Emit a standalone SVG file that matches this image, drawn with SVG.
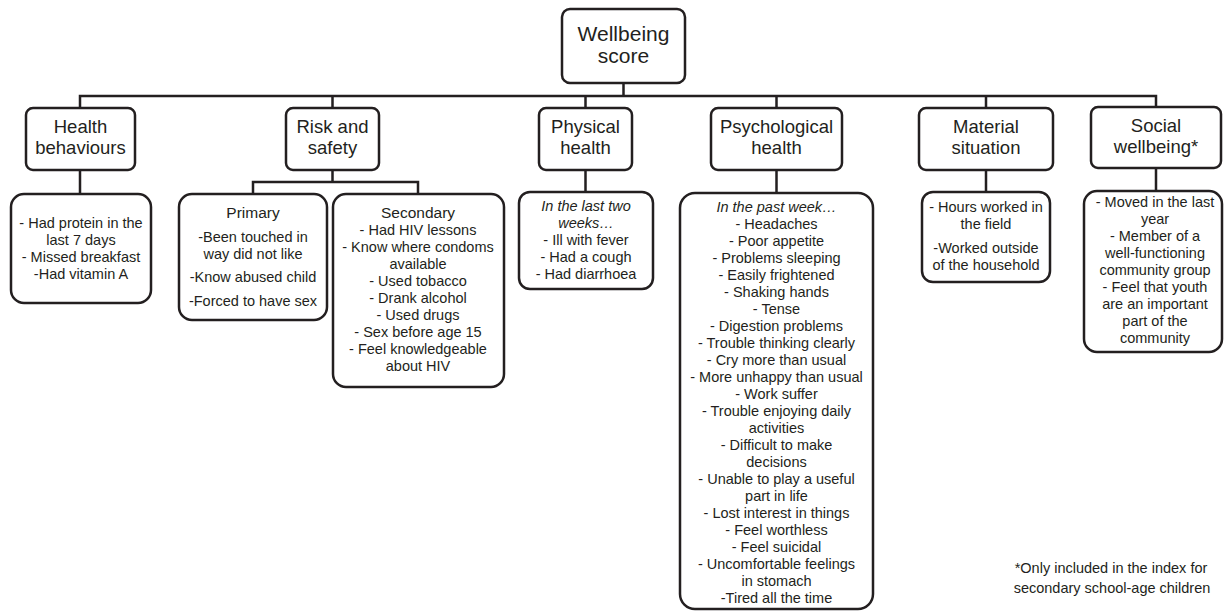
<svg xmlns="http://www.w3.org/2000/svg" width="1225" height="611" viewBox="0 0 1225 611">
<style>
  .box { fill: #fff; stroke: #231f20; stroke-width: 2.5; }
  .conn { fill: none; stroke: #231f20; stroke-width: 2.5; }
  text { font-family: "Liberation Sans", Arial, sans-serif; fill: #231f20; text-anchor: middle; }
  .root { font-size: 21px; }
  .l1 { font-size: 18.5px; }
  .d { font-size: 14.5px; }
  .t { font-size: 15.5px; }
  .i { font-style: italic; }
</style>
<rect width="1225" height="611" fill="#fff"/>
<g id="connectors">
  <path class="conn" d="M623.5 83 V96 M80 108 V96 H1156 V107 M332.5 96 V108 M585.5 96 V108 M776.5 96 V108 M986 96 V108"/>
  <path class="conn" d="M80 170 V194 M332.5 170 V182 M253 194 V182 H418 V194 M585.5 170 V192 M776.5 170 V193 M986 170 V192 M1156 168 V191"/>
</g>
<g id="root">
  <rect class="box" x="562" y="9" width="123" height="74" rx="8"/>
  <text class="root" x="623.5" y="41">Wellbeing</text>
  <text class="root" x="623.5" y="63">score</text>
</g>
<g id="health-behaviours">
  <rect class="box" x="26" y="108" width="109" height="62" rx="7"/>
  <text class="l1" x="80.5" y="133">Health</text>
  <text class="l1" x="80.5" y="154">behaviours</text>
</g>
<g id="risk-safety">
  <rect class="box" x="286" y="108" width="93" height="62" rx="7"/>
  <text class="l1" x="332.5" y="133">Risk and</text>
  <text class="l1" x="332.5" y="154">safety</text>
</g>
<g id="physical-health">
  <rect class="box" x="539" y="108" width="93" height="62" rx="7"/>
  <text class="l1" x="585.5" y="133">Physical</text>
  <text class="l1" x="585.5" y="154">health</text>
</g>
<g id="psychological-health">
  <rect class="box" x="711" y="108" width="131" height="62" rx="7"/>
  <text class="l1" x="776.5" y="133">Psychological</text>
  <text class="l1" x="776.5" y="154">health</text>
</g>
<g id="material-situation">
  <rect class="box" x="919" y="108" width="134" height="62" rx="7"/>
  <text class="l1" x="986" y="133">Material</text>
  <text class="l1" x="986" y="154">situation</text>
</g>
<g id="social-wellbeing">
  <rect class="box" x="1091" y="107" width="130" height="61" rx="7"/>
  <text class="l1" x="1156" y="132">Social</text>
  <text class="l1" x="1156" y="153">wellbeing*</text>
</g>
<g id="health-details">
  <rect class="box" x="11" y="194" width="140" height="109" rx="13"/>
  <text class="d" x="81" y="228">- Had protein in the</text>
  <text class="d" x="81" y="245">last 7 days</text>
  <text class="d" x="81" y="262">- Missed breakfast</text>
  <text class="d" x="81" y="279">-Had vitamin A</text>
</g>
<g id="primary">
  <rect class="box" x="179" y="194" width="148" height="126" rx="13"/>
  <text class="t" x="253" y="218">Primary</text>
  <text class="d" x="253" y="242">-Been touched in</text>
  <text class="d" x="253" y="259">way did not like</text>
  <text class="d" x="253" y="282">-Know abused child</text>
  <text class="d" x="253" y="306">-Forced to have sex</text>
</g>
<g id="secondary">
  <rect class="box" x="333" y="194" width="171" height="193" rx="13"/>
  <text class="t" x="418" y="218">Secondary</text>
  <text class="d" x="418" y="235">- Had HIV lessons</text>
  <text class="d" x="418" y="252">- Know where condoms</text>
  <text class="d" x="418" y="269">available</text>
  <text class="d" x="418" y="286">- Used tobacco</text>
  <text class="d" x="418" y="303">- Drank alcohol</text>
  <text class="d" x="418" y="320">- Used drugs</text>
  <text class="d" x="418" y="337">- Sex before age 15</text>
  <text class="d" x="418" y="354">- Feel knowledgeable</text>
  <text class="d" x="418" y="371">about HIV</text>
</g>
<g id="physical-details">
  <rect class="box" x="519" y="192" width="134" height="97" rx="11"/>
  <text class="d i" x="586" y="211">In the last two</text>
  <text class="d i" x="586" y="228">weeks…</text>
  <text class="d" x="586" y="245">- Ill with fever</text>
  <text class="d" x="586" y="262">- Had a cough</text>
  <text class="d" x="586" y="279">- Had diarrhoea</text>
</g>
<g id="psychological-details">
  <rect class="box" x="680" y="193" width="193" height="416" rx="15"/>
  <text class="d i" x="776.5" y="212">In the past week…</text>
  <text class="d" x="776.5" y="229">- Headaches</text>
  <text class="d" x="776.5" y="246">- Poor appetite</text>
  <text class="d" x="776.5" y="263">- Problems sleeping</text>
  <text class="d" x="776.5" y="280">- Easily frightened</text>
  <text class="d" x="776.5" y="297">- Shaking hands</text>
  <text class="d" x="776.5" y="314">- Tense</text>
  <text class="d" x="776.5" y="331">- Digestion problems</text>
  <text class="d" x="776.5" y="348">- Trouble thinking clearly</text>
  <text class="d" x="776.5" y="365">- Cry more than usual</text>
  <text class="d" x="776.5" y="382">- More unhappy than usual</text>
  <text class="d" x="776.5" y="399">- Work suffer</text>
  <text class="d" x="776.5" y="416">- Trouble enjoying daily</text>
  <text class="d" x="776.5" y="433">activities</text>
  <text class="d" x="776.5" y="450">- Difficult to make</text>
  <text class="d" x="776.5" y="467">decisions</text>
  <text class="d" x="776.5" y="484">- Unable to play a useful</text>
  <text class="d" x="776.5" y="501">part in life</text>
  <text class="d" x="776.5" y="518">- Lost interest in things</text>
  <text class="d" x="776.5" y="535">- Feel worthless</text>
  <text class="d" x="776.5" y="552">- Feel suicidal</text>
  <text class="d" x="776.5" y="569">- Uncomfortable feelings</text>
  <text class="d" x="776.5" y="586">in stomach</text>
  <text class="d" x="776.5" y="603">-Tired all the time</text>
</g>
<g id="material-details">
  <rect class="box" x="922" y="192" width="128" height="90" rx="11"/>
  <text class="d" x="986" y="212">- Hours worked in</text>
  <text class="d" x="986" y="229">the field</text>
  <text class="d" x="986" y="253">-Worked outside</text>
  <text class="d" x="986" y="270">of the household</text>
</g>
<g id="social-details">
  <rect class="box" x="1084" y="191" width="138" height="161" rx="13"/>
  <text class="d" x="1155" y="207">- Moved in the last</text>
  <text class="d" x="1155" y="224">year</text>
  <text class="d" x="1155" y="241">- Member of a</text>
  <text class="d" x="1155" y="258">well-functioning</text>
  <text class="d" x="1155" y="275">community group</text>
  <text class="d" x="1155" y="292">- Feel that youth</text>
  <text class="d" x="1155" y="309">are an important</text>
  <text class="d" x="1155" y="326">part of the</text>
  <text class="d" x="1155" y="343">community</text>
</g>
<g id="footnote">
  <text class="d" x="1111" y="573">*Only included in the index for</text>
  <text class="d" x="1112" y="593">secondary school-age children</text>
</g>
</svg>
